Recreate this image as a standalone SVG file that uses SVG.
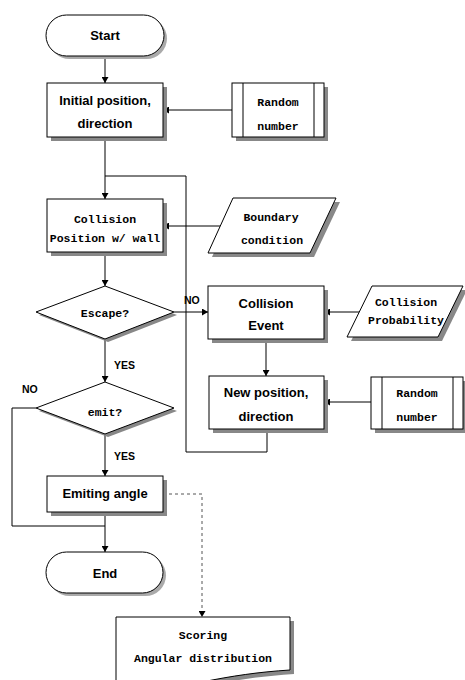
<svg xmlns="http://www.w3.org/2000/svg" width="465" height="680" viewBox="0 0 465 680">
<style>
.box{fill:#fff;stroke:#000;stroke-width:1}
.sh{fill:#888;stroke:none}
.tsh{fill:#aaa;stroke:none}
.ln{fill:none;stroke:#000;stroke-width:1}
.dash{fill:none;stroke:#555;stroke-width:1;stroke-dasharray:3,3}
.p{font-family:"Liberation Sans",Arial,sans-serif;font-weight:bold;font-size:13px;text-anchor:middle;fill:#000}
.m{font-family:"Liberation Mono","Courier New",monospace;font-weight:bold;font-size:11.5px;text-anchor:middle;fill:#000}
.lbl{font-family:"Liberation Sans",Arial,sans-serif;font-weight:bold;font-size:10.5px;fill:#000}
</style>
<defs>
<marker id="ah" markerWidth="7" markerHeight="7" refX="6" refY="3.5" orient="auto" markerUnits="userSpaceOnUse">
<path d="M0,0 L6,3.5 L0,7 Z" fill="#000"/>
</marker>
</defs>
<g id="connectors">
<path class="ln" d="M105,56 V83" marker-end="url(#ah)"/>
<path class="ln" d="M232,110 H163" marker-end="url(#ah)"/>
<path class="ln" d="M105,137 V199" marker-end="url(#ah)"/>
<path class="ln" d="M267,429 V452 H186 V176 H105"/>
<path class="ln" d="M220,226 H163" marker-end="url(#ah)"/>
<path class="ln" d="M105,252 V286" marker-end="url(#ah)"/>
<path class="ln" d="M174,312 H208" marker-end="url(#ah)"/>
<path class="ln" d="M359,312 H324" marker-end="url(#ah)"/>
<path class="ln" d="M266,339 V376" marker-end="url(#ah)"/>
<path class="ln" d="M371,402 H324" marker-end="url(#ah)"/>
<path class="ln" d="M105,339 V382" marker-end="url(#ah)"/>
<path class="ln" d="M105,434 V476" marker-end="url(#ah)"/>
<path class="ln" d="M36,408 H12 V526 H105"/>
<path class="ln" d="M105,512 V552" marker-end="url(#ah)"/>
<path class="dash" d="M163,494 H202 V617" marker-end="url(#ah)"/>
<text class="lbl" x="184" y="304">NO</text>
<text class="lbl" x="114" y="369">YES</text>
<text class="lbl" x="22" y="393">NO</text>
<text class="lbl" x="114" y="460">YES</text>
</g>
<g id="start">
<rect class="tsh" x="49" y="18" width="118" height="41" rx="20.5"/>
<rect class="box" x="46" y="15" width="118" height="41" rx="20.5"/>
<text class="p" x="105" y="40">Start</text>
</g>
<g id="initial">
<rect class="sh" x="51" y="87" width="116" height="54"/>
<rect class="box" x="47" y="83" width="116" height="54"/>
<text class="p" x="105" y="105">Initial position,</text>
<text class="p" x="105" y="128">direction</text>
</g>
<g id="random1">
<rect class="sh" x="236" y="87" width="92" height="54"/>
<rect class="box" x="232" y="83" width="92" height="54"/>
<path class="ln" d="M243,83 V137 M314,83 V137"/>
<text class="m" x="278" y="106">Random</text>
<text class="m" x="278" y="130">number</text>
</g>
<g id="collision-pos">
<rect class="sh" x="51" y="203" width="116" height="53"/>
<rect class="box" x="47" y="199" width="116" height="53"/>
<text class="m" x="105" y="223">Collision</text>
<text class="m" x="105" y="242">Position w/ wall</text>
</g>
<g id="boundary">
<polygon class="sh" points="237,202 340,202 314,257 212,257"/>
<polygon class="box" points="233,198 336,198 310,253 208,253"/>
<text class="m" x="271" y="221">Boundary</text>
<text class="m" x="272" y="244">condition</text>
</g>
<g id="escape">
<polygon class="sh" points="39,315 108,289 177,315 108,342"/>
<polygon class="box" points="36,312 105,286 174,312 105,339"/>
<text class="m" x="105" y="317">Escape?</text>
</g>
<g id="collision-event">
<rect class="sh" x="212" y="290" width="116" height="53"/>
<rect class="box" x="208" y="286" width="116" height="53"/>
<text class="p" x="266" y="308">Collision</text>
<text class="p" x="266" y="330">Event</text>
</g>
<g id="collision-prob">
<polygon class="sh" points="376,290 467,290 442,341 351,341"/>
<polygon class="box" points="372,286 463,286 438,337 347,337"/>
<text class="m" x="406" y="306">Collision</text>
<text class="m" x="406" y="324">Probability</text>
</g>
<g id="new-position">
<rect class="sh" x="213" y="380" width="115" height="53"/>
<rect class="box" x="209" y="376" width="115" height="53"/>
<text class="p" x="266" y="397">New position,</text>
<text class="p" x="266" y="421">direction</text>
</g>
<g id="random2">
<rect class="sh" x="375" y="381" width="92" height="52"/>
<rect class="box" x="371" y="377" width="92" height="52"/>
<path class="ln" d="M382,377 V429 M453,377 V429"/>
<text class="m" x="417" y="397">Random</text>
<text class="m" x="417" y="421">number</text>
</g>
<g id="emit">
<polygon class="sh" points="39,411 108,385 177,411 108,437"/>
<polygon class="box" points="36,408 105,382 174,408 105,434"/>
<text class="m" x="105" y="416">emit?</text>
</g>
<g id="emiting">
<rect class="sh" x="51" y="480" width="116" height="36"/>
<rect class="box" x="47" y="476" width="116" height="36"/>
<text class="p" x="105" y="498">Emiting angle</text>
</g>
<g id="end">
<rect class="tsh" x="49" y="555" width="117" height="41" rx="20.5"/>
<rect class="box" x="46" y="552" width="117" height="41" rx="20.5"/>
<text class="p" x="105" y="578">End</text>
</g>
<g id="scoring">
<path class="sh" d="M120,621 H294 V674 C262,676 236,680 206,686 C170,693 140,696 120,696 Z"/>
<path class="box" d="M116,617 H290 V670 C258,672 232,676 202,682 C166,689 136,692 116,692 Z"/>
<text class="m" x="203" y="639">Scoring</text>
<text class="m" x="203" y="662">Angular distribution</text>
</g>
</svg>
